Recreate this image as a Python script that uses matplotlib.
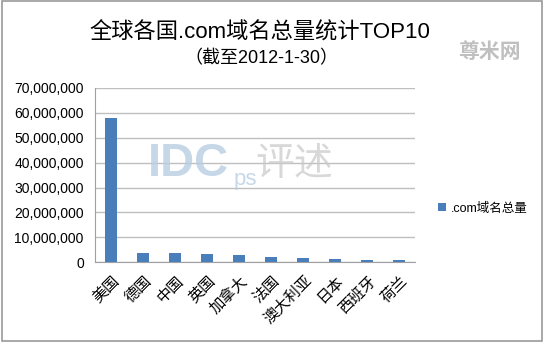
import matplotlib
matplotlib.use("Agg")
import matplotlib.pyplot as plt
from matplotlib.patches import Rectangle
from matplotlib.ticker import FuncFormatter

countries = ["美国", "德国", "中国", "英国", "加拿大", "法国", "澳大利亚", "日本", "西班牙", "荷兰"]
domains = [58000000, 3900000, 3660000, 3250000, 2850000, 2150000, 1750000, 1340000, 1060000, 800000]
series_name = ".com域名总量"
title = "全球各国.com域名总量统计TOP10"
subtitle = "（截至2012-1-30）"

plt.rcParams['font.family'] = ['Liberation Sans', 'Noto Sans CJK SC', 'DejaVu Sans']

fig = plt.figure(figsize=(5.44, 3.42), dpi=100)
ax = fig.add_axes([0.1746, 0.233, 0.5885, 0.510])

x = list(range(len(countries)))
ax.bar(x, domains, width=0.38, color="#4A7EBB", label=series_name, zorder=3)

ax.set_xlim(-0.5, len(countries) - 0.5)
ax.set_ylim(0, 70000000)
ax.set_yticks(range(0, 70000001, 10000000))
ax.yaxis.set_major_formatter(FuncFormatter(lambda v, p: f"{int(v):,}"))
ax.tick_params(axis="y", length=0, labelsize=10, pad=8)
ax.tick_params(axis="x", length=0, pad=7)
ax.set_xticks(x)
ax.set_xticklabels(countries, rotation=45, ha="right", rotation_mode="anchor",
                   fontsize=11, family=['Noto Sans CJK SC'])
ax.grid(axis="y", color="#BFBFBF", linewidth=1, zorder=0)
for s in ["top", "right"]:
    ax.spines[s].set_visible(False)
for s in ["left", "bottom"]:
    ax.spines[s].set_color("#A0A0A0")

leg = fig.legend(loc="center left", bbox_to_anchor=(0.785, 0.39), frameon=False,
                 handlelength=0.6, handleheight=0.6, handletextpad=0.4,
                 prop={'family': ['Liberation Sans', 'Noto Sans CJK SC'], 'size': 9})

fig.text(0.478, 0.905, title, ha="center", va="center", fontsize=16,
         family=['Liberation Sans', 'Noto Sans CJK SC'])
fig.text(0.48, 0.828, subtitle, ha="center", va="center", fontsize=13,
         family=['Liberation Sans', 'Noto Sans CJK SC'])

# watermarks
fig.text(0.272, 0.52, "IDC", fontsize=34, fontweight="bold", color="#B8CDE3",
         alpha=0.8, ha="left", va="center")
fig.text(0.43, 0.475, "ps", fontsize=16, color="#B8CDE3", alpha=0.8,
         ha="left", va="center")
fig.text(0.47, 0.52, "评述", fontsize=28, color="#C8C8C8", alpha=0.7,
         ha="left", va="center", family=['Noto Sans CJK SC'])
fig.text(0.9, 0.85, "尊米网", fontsize=15, fontweight="bold", color="#B0B0B0",
         alpha=0.8, ha="center", va="center", family=['Noto Sans CJK SC'])

fig.patches.append(Rectangle((0.003, 0.004), 0.994, 0.992, transform=fig.transFigure,
                             fill=False, edgecolor="#999999", linewidth=1.2))

fig.savefig("out.png", dpi=100)
